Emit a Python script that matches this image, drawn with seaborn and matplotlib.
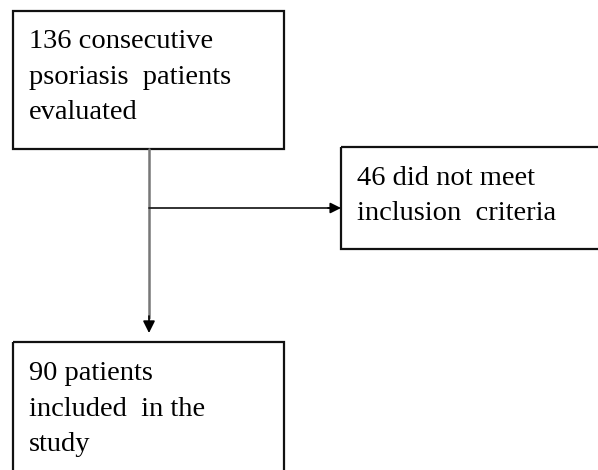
import matplotlib
matplotlib.use("Agg")
import matplotlib.pyplot as plt
import matplotlib.patches as patches
import pandas as pd
import seaborn as sns

# Flow chart content
n_evaluated = 136
n_excluded = 46
n_included = 90

evaluated_lines = [f"{n_evaluated} consecutive", "psoriasis  patients", "evaluated"]
excluded_lines = [f"{n_excluded} did not meet", "inclusion  criteria"]
included_lines = [f"{n_included} patients", "included  in the", "study"]

sns.set_theme(style="white")
plt.rcParams['font.family'] = ['Liberation Serif', 'DejaVu Serif']

fig = plt.figure(figsize=(5.98, 4.70), dpi=100)
ax = fig.add_axes([0, 0, 1, 1])
ax.set_xlim(0, 598)
ax.set_ylim(470, 0)
ax.axis('off')

# boxes (x, y, w, h) in pixel coords
boxes = [(13, 11, 271, 138), (341, 147, 270, 102), (13, 342, 271, 140)]
for (bx, by, bw, bh) in boxes:
    ax.add_patch(patches.Rectangle((bx, by), bw, bh, fill=False,
                                   edgecolor='#111111', linewidth=1.6))

# connectors
vert = pd.DataFrame({'x': [149, 149], 'y': [149, 318]})
sns.lineplot(data=vert, x='x', y='y', ax=ax, color='#777777', linewidth=1.8,
             sort=False, estimator=None)
horiz = pd.DataFrame({'x': [149, 330], 'y': [208, 208]})
sns.lineplot(data=horiz, x='x', y='y', ax=ax, color='#222222', linewidth=1.3,
             sort=False, estimator=None)

# arrow heads
ax.annotate('', xy=(341, 208), xytext=(328, 208),
            arrowprops=dict(arrowstyle='-|>', color='black', lw=1.2,
                            mutation_scale=16, shrinkA=0, shrinkB=0))
ax.annotate('', xy=(149, 333), xytext=(149, 316),
            arrowprops=dict(arrowstyle='-|>', color='black', lw=1.2,
                            mutation_scale=18, shrinkA=0, shrinkB=0))
ax.set_xlim(0, 598)
ax.set_ylim(470, 0)

# box texts
def put_lines(lines, x, y0, step=35.5):
    for i, t in enumerate(lines):
        ax.text(x, y0 + i * step, t, fontsize=20.5, color='black',
                ha='left', va='baseline')

put_lines(evaluated_lines, 29, 48)
put_lines(excluded_lines, 357, 185)
put_lines(included_lines, 29, 380)

fig.savefig('out.png', dpi=100)
